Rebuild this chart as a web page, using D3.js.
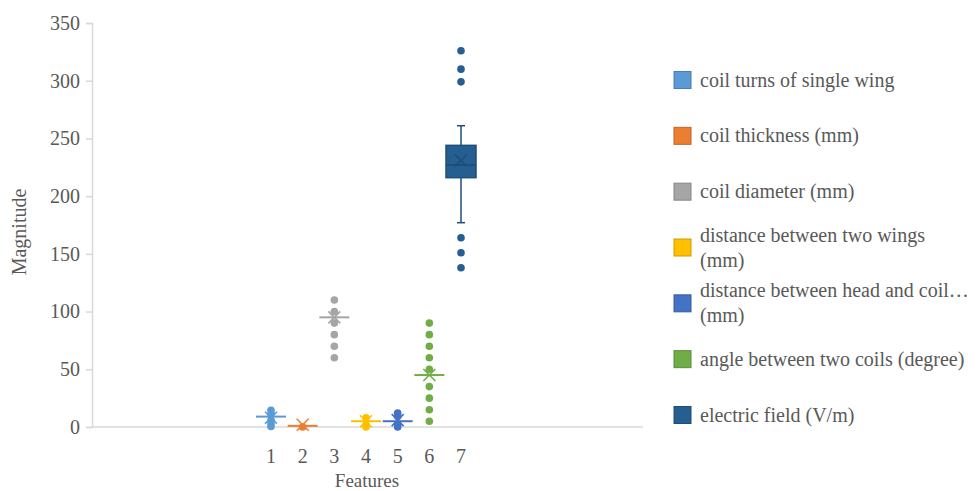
<!DOCTYPE html>
<html>
<head>
<meta charset="utf-8">
<script src="https://cdn.jsdelivr.net/npm/d3@7"></script>
<style>
  body { margin: 0; background: #fff; }
  text { font-family: "Liberation Serif", "Times New Roman", serif; fill: #595959; }
</style>
</head>
<body>
<svg id="chart" width="979" height="491"></svg>
<script>
// box plot data
const features = ["1", "2", "3", "4", "5", "6", "7"];
const seriesNames = [
  ["coil turns of single wing"],
  ["coil thickness (mm)"],
  ["coil diameter (mm)"],
  ["distance between two wings", "(mm)"],
  ["distance between head and coil\u2026", "(mm)"],
  ["angle between two coils (degree)"],
  ["electric field (V/m)"]
];
const colors = ["#5b9bd5", "#ed7d31", "#a5a5a5", "#ffc000", "#4472c4", "#70ad47", "#255e91"];
const strokes = ["#5b9bd5", "#ed7d31", "#a5a5a5", "#ffc000", "#4472c4", "#70ad47", "#1f4e79"];
const q1 = [9, 1, 95, 5, 5, 45, 216];
const median = [9, 1, 95, 5, 5, 45, 227];
const q3 = [9, 1, 95, 5, 5, 45, 244];
const mean = [8, 2, 95, 5, 6, 45, 231];
const whiskerLow = [9, 1, 95, 5, 5, 45, 177];
const whiskerHigh = [9, 1, 95, 5, 5, 45, 261];
const outliers = [
  [14.5, 11.5, 6, 3, 0.5],
  [0],
  [60, 70, 80, 90, 100, 110],
  [8, 2, 0],
  [12, 9, 2, 0],
  [5, 15, 25, 35, 50, 60, 70, 80, 90],
  [138, 151, 164, 299, 310, 326]
];
const yTicks = [0, 50, 100, 150, 200, 250, 300, 350];

const svg = d3.select("#chart");

const plot = { left: 92, right: 643, top: 23, bottom: 427 };

const y = d3.scaleLinear().domain([0, 350]).range([plot.bottom, plot.top]);
const x = d3.scalePoint().domain(features).range([271, 461]);
const boxW = 30;

// y axis
const yAxis = d3.axisLeft(y).tickValues(yTicks).tickSize(6).tickPadding(6);
const gy = svg.append("g")
  .attr("transform", "translate(" + plot.left + ",0)")
  .call(yAxis)
  .attr("font-family", null);
gy.select(".domain").attr("stroke", "#d9d9d9").attr("stroke-width", 1.5);
gy.selectAll(".tick line").attr("stroke", "#d9d9d9").attr("stroke-width", 1.5);
gy.selectAll(".tick text").style("font-size", "20px").attr("fill", "#595959");

// x baseline
svg.append("line")
  .attr("x1", plot.left).attr("x2", plot.right)
  .attr("y1", y(0)).attr("y2", y(0))
  .attr("stroke", "#d9d9d9").attr("stroke-width", 1.5);

// x labels
svg.append("g").selectAll("text")
  .data(features)
  .join("text")
  .attr("x", d => x(d))
  .attr("y", 463)
  .attr("text-anchor", "middle")
  .style("font-size", "20px")
  .text(d => d);

svg.append("text")
  .attr("x", 367).attr("y", 487)
  .attr("text-anchor", "middle")
  .style("font-size", "19px")
  .text("Features");

svg.append("text")
  .attr("transform", "translate(26,232) rotate(-90)")
  .attr("text-anchor", "middle")
  .style("font-size", "20px")
  .text("Magnitude");

// boxes
const boxes = svg.append("g").selectAll("g")
  .data(features)
  .join("g");

boxes.each(function (f, i) {
  const g = d3.select(this);
  const cx = x(f);
  const col = colors[i];
  const st = strokes[i];

  // whiskers
  if (whiskerHigh[i] > q3[i]) {
    g.append("line").attr("x1", cx).attr("x2", cx)
      .attr("y1", y(q3[i])).attr("y2", y(whiskerHigh[i]))
      .attr("stroke", st).attr("stroke-width", 1.5);
    g.append("line").attr("x1", cx - 4).attr("x2", cx + 4)
      .attr("y1", y(whiskerHigh[i])).attr("y2", y(whiskerHigh[i]))
      .attr("stroke", st).attr("stroke-width", 1.5);
  }
  if (whiskerLow[i] < q1[i]) {
    g.append("line").attr("x1", cx).attr("x2", cx)
      .attr("y1", y(q1[i])).attr("y2", y(whiskerLow[i]))
      .attr("stroke", st).attr("stroke-width", 1.5);
    g.append("line").attr("x1", cx - 4).attr("x2", cx + 4)
      .attr("y1", y(whiskerLow[i])).attr("y2", y(whiskerLow[i]))
      .attr("stroke", st).attr("stroke-width", 1.5);
  }

  // box
  if (q3[i] > q1[i]) {
    g.append("rect")
      .attr("x", cx - boxW / 2)
      .attr("y", y(q3[i]))
      .attr("width", boxW)
      .attr("height", y(q1[i]) - y(q3[i]))
      .attr("fill", col)
      .attr("stroke", st)
      .attr("stroke-width", 1.5);
  }

  // outliers
  g.selectAll("circle")
    .data(outliers[i])
    .join("circle")
    .attr("cx", cx)
    .attr("cy", d => y(d))
    .attr("r", 3.8)
    .attr("fill", col);

  // median
  g.append("line")
    .attr("x1", cx - boxW / 2).attr("x2", cx + boxW / 2)
    .attr("y1", y(median[i])).attr("y2", y(median[i]))
    .attr("stroke", i === 6 ? st : col).attr("stroke-width", 2);

  // mean marker
  const m = y(mean[i]);
  const s = 6;
  g.append("path")
    .attr("d", "M" + (cx - s) + "," + (m - s) + "L" + (cx + s) + "," + (m + s) +
               "M" + (cx - s) + "," + (m + s) + "L" + (cx + s) + "," + (m - s))
    .attr("stroke", i === 6 ? st : col)
    .attr("stroke-width", 1.6)
    .attr("fill", "none");
});

// legend
const legend = svg.append("g").attr("transform", "translate(674,0)");
const rowY = d3.scaleLinear().domain([0, 6]).range([80, 415]);

seriesNames.forEach(function (lines, i) {
  const cy = rowY(i);
  legend.append("rect")
    .attr("x", 0).attr("y", cy - 8.5)
    .attr("width", 17).attr("height", 17)
    .attr("fill", colors[i])
    .attr("stroke", d3.color(colors[i]).darker(0.6))
    .attr("stroke-width", 1);
  const t = legend.append("text")
    .attr("x", 26)
    .attr("y", cy - (lines.length - 1) * 12.5)
    .style("font-size", "20px");
  lines.forEach(function (ln, j) {
    t.append("tspan").attr("x", 26).attr("dy", j === 0 ? "0.33em" : "25px").text(ln);
  });
});
</script>
</body>
</html>
